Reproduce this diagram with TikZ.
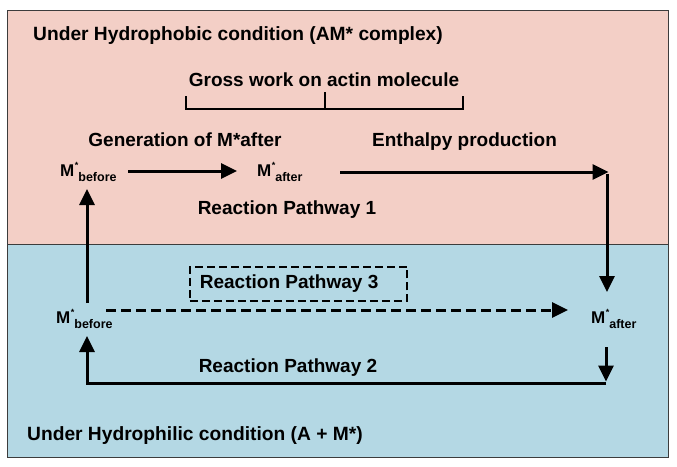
\documentclass[tikz,border=0pt]{standalone}
\usepackage{fontspec}
\setmainfont{Liberation Sans}
\usetikzlibrary{arrows.meta}
\definecolor{toppink}{RGB}{243,207,198}
\definecolor{botblue}{RGB}{180,216,228}
\definecolor{frame}{RGB}{60,60,60}
\newcommand\Mlab[1]{M\kern0.5pt\raisebox{0.42em}{\fontsize{9}{9}\selectfont *}\raisebox{-0.34em}{\fontsize{12.5}{12.5}\selectfont #1}}
\tikzset{
  lbl/.style={font=\fontsize{19}{19}\selectfont\bfseries, inner sep=0pt, anchor=base},
  ttl/.style={font=\fontsize{19.2}{19.2}\selectfont\bfseries, inner sep=0pt, anchor=base west},
  mlab/.style={font=\fontsize{17}{17}\selectfont\bfseries, inner sep=0pt, anchor=base west},
  arr/.style={line width=3pt, -{Triangle[length=16pt,width=15pt]}},
  dasharr/.style={line width=3pt, dash pattern=on 10pt off 5pt, -{Triangle[length=16pt,width=15pt]}},
  brk/.style={line width=2.2pt},
  dbox/.style={draw, line width=1.8pt, dash pattern=on 8pt off 4pt, inner xsep=10pt, minimum height=34pt,
    font=\fontsize{19}{19}\selectfont\bfseries}
}
\begin{document}
\begin{tikzpicture}[x=1pt,y=-1pt]
\useasboundingbox (0,0) rectangle (677,466);
\fill[toppink] (7,10) rectangle (668,244);
\fill[botblue] (7,244) rectangle (668,457);
\draw[frame, line width=1pt] (7,10) rectangle (668,457);
\draw[frame, line width=1pt] (7,244) -- (668,244);

\node[ttl] (t1) at (33,40) {Under Hydrophobic condition (AM* complex)};
\node[ttl] (t2) at (27,440) {Under Hydrophilic condition (A + M*)};

\node[lbl] (gross) at (324,86) {Gross work on actin molecule};
\node[lbl] (gen) at (185,146) {Generation of M*after};
\node[lbl] (enth) at (464.5,146) {Enthalpy production};

\coordinate (bt) at (325,92);
\coordinate (bl) at (186,109);
\coordinate (br) at (463,109);
\draw[brk] (bt) -- (bt |- bl);
\draw[brk] ([yshift=13pt]bl) -- (bl) -- (br) -- ([yshift=13pt]br);

\node[mlab] (mb1) at (60,176) {\Mlab{before}};
\node[mlab] (ma1) at (257,176) {\Mlab{after}};
\node[lbl] (rp1) at (287,214) {Reaction Pathway 1};

\node[mlab] (mb2) at (56,323) {\Mlab{before}};
\node[mlab] (ma2) at (591,323) {\Mlab{after}};
\node[dbox, anchor=west] (rp3) at (189,284) {Reaction Pathway 3\rule{19pt}{0pt}};
\node[lbl] (rp2) at (288,372) {Reaction Pathway 2};

\coordinate (a1s) at (128,171);
\coordinate (a1e) at (237,171);
\coordinate (a2s) at (340,172);
\coordinate (c1) at (607,172);
\coordinate (d1) at (607,292);
\coordinate (u1s) at (87,303);
\coordinate (u1e) at (87,189);
\coordinate (dsh1) at (106,310);
\coordinate (dsh2) at (568,310);
\coordinate (r2s) at (606,347);
\coordinate (c2) at (606,383);
\coordinate (c3) at (87,383);
\coordinate (u2e) at (87,336);

\draw[arr] (a1s) -- (a1e);
\draw[arr] (a2s) -- ([xshift=1.5pt]c1);
\draw[arr] ([yshift=-1.5pt]c1) -- (d1);
\draw[arr] (u1s) -- (u1e);
\draw[dasharr] (dsh1) -- (dsh2);
\draw[arr] (r2s) -- ([yshift=1.5pt]c2);
\draw[arr, line join=miter] (c2) -- (c3) -- (u2e);
\end{tikzpicture}
\end{document}
